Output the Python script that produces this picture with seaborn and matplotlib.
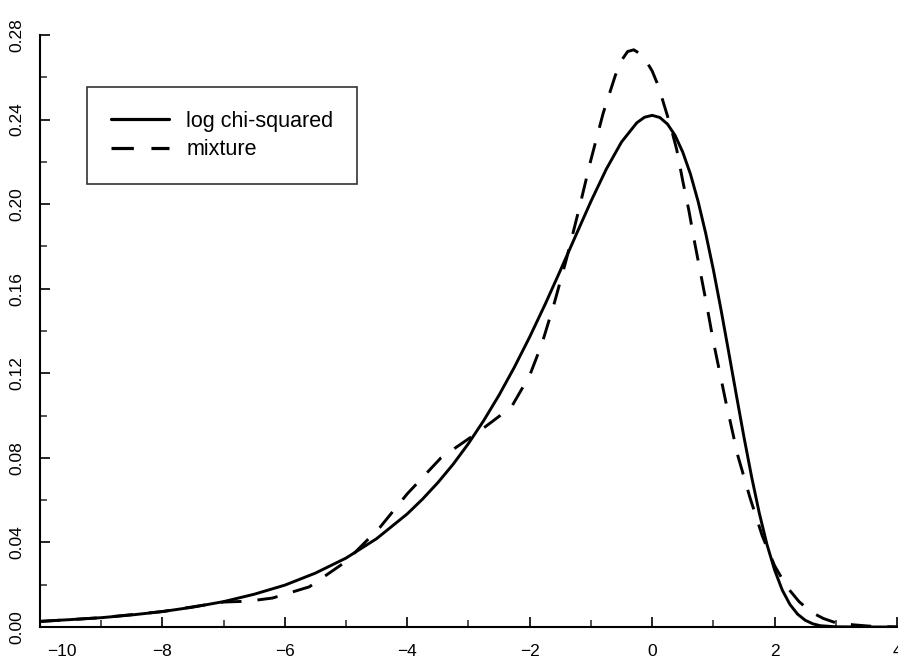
import numpy as np
import pandas as pd
import matplotlib
matplotlib.use("Agg")
import matplotlib.pyplot as plt
import matplotlib.transforms as mtransforms
from matplotlib.ticker import MultipleLocator
import seaborn as sns

# ---- data ----
x_logchi = [-10, -9.5, -9, -8.5, -8, -7.5, -7, -6.5, -6, -5.5, -5, -4.5, -4,
            -3.75, -3.5, -3.25, -3, -2.75, -2.5, -2.25, -2, -1.75, -1.5, -1.25,
            -1, -0.75, -0.5, -0.25, -0.125, 0, 0.125, 0.25, 0.375, 0.5, 0.625,
            0.75, 0.875, 1, 1.125, 1.25, 1.375, 1.5, 1.625, 1.75, 1.875, 2,
            2.125, 2.25, 2.375, 2.5, 2.625, 2.75, 3, 3.5, 4]
y_logchi = [0.0027, 0.0035, 0.0044, 0.0057, 0.0073, 0.0094, 0.0120, 0.0155,
            0.0198, 0.0255, 0.0326, 0.0418, 0.0535, 0.0605, 0.0683, 0.0770,
            0.0868, 0.0977, 0.1097, 0.1229, 0.1372, 0.1525, 0.1686, 0.1850,
            0.2013, 0.2165, 0.2294, 0.2385, 0.2411, 0.2420, 0.2410, 0.2379,
            0.2325, 0.2246, 0.2143, 0.2014, 0.1862, 0.1690, 0.1501, 0.1301,
            0.1098, 0.0898, 0.0710, 0.0539, 0.0391, 0.0270, 0.0175, 0.0107,
            0.0061, 0.0032, 0.0015, 0.0006, 0.0001, 0.0, 0.0]

x_mix = [-10, -9, -8, -7, -6.6, -6.2, -5.6, -5.0, -4.45, -4.0, -3.45, -2.85,
         -2.3, -2.0, -1.8, -1.6, -1.4, -1.2, -1.0, -0.8, -0.6, -0.5, -0.4,
         -0.3, -0.2, -0.1, 0.0, 0.1, 0.2, 0.3, 0.4, 0.5, 0.6, 0.7, 0.8, 0.9,
         1.0, 1.2, 1.4, 1.6, 1.8, 2.0, 2.2, 2.4, 2.6, 2.8, 3.0, 3.3, 3.6, 4.0]
y_mix = [0.0026, 0.0044, 0.0073, 0.0118, 0.0122, 0.0137, 0.0190, 0.0310,
         0.0470, 0.0630, 0.0800, 0.0920, 0.1040, 0.1190, 0.1340, 0.1530,
         0.1740, 0.1970, 0.2210, 0.2430, 0.2610, 0.2680, 0.2722, 0.2730,
         0.2712, 0.2678, 0.2630, 0.2560, 0.2465, 0.2370, 0.2260, 0.2110,
         0.1970, 0.1810, 0.1660, 0.1510, 0.1350, 0.1070, 0.0810, 0.0610,
         0.0430, 0.0290, 0.0190, 0.0120, 0.0070, 0.0040, 0.0020, 0.0010,
         0.0003, 0.0]

series_names = ["log chi-squared", "mixture"]
x_ticks = [-10, -8, -6, -4, -2, 0, 2, 4]
y_ticks = [0.00, 0.04, 0.08, 0.12, 0.16, 0.20, 0.24, 0.28]

df = pd.concat([
    pd.DataFrame({"x": x_logchi, "y": y_logchi, "series": series_names[0]}),
    pd.DataFrame({"x": x_mix, "y": y_mix, "series": series_names[1]}),
], ignore_index=True)

sns.set_theme(style="ticks")
plt.rcParams["font.family"] = ["Liberation Sans", "DejaVu Sans"]
plt.rcParams["text.color"] = "black"

fig = plt.figure(figsize=(8.98, 6.63), dpi=100)
ax = fig.add_axes([0.0445, 0.0543, 0.9544, 0.8929])

sns.lineplot(data=df, x="x", y="y", hue="series", style="series",
             palette=["black", "black"],
             dashes={series_names[0]: "", series_names[1]: (7, 5.5)},
             linewidth=2.1, sort=False, ax=ax, legend=True)

ax.set_xlim(-10, 4)
ax.set_ylim(0, 0.28)
ax.set_xticks(x_ticks)
ax.set_yticks(y_ticks)
ax.xaxis.set_minor_locator(MultipleLocator(1))
ax.yaxis.set_minor_locator(MultipleLocator(0.02))
ax.set_xticklabels([f"{t:d}".replace("-", "\u2212") for t in x_ticks])
ax.set_yticklabels([f"{t:.2f}" for t in y_ticks], rotation=90, va="center")
ax.set_xlabel("")
ax.set_ylabel("")

ax.tick_params(axis="both", which="major", direction="in", length=7, width=1.2,
               labelsize=12.5, colors="black")
ax.tick_params(axis="both", which="minor", direction="in", length=5, width=1.1)
ax.tick_params(axis="x", which="major", pad=12)
ax.tick_params(axis="y", which="major", pad=11)

for s in ["top", "right"]:
    ax.spines[s].set_visible(False)
for s in ["left", "bottom"]:
    ax.spines[s].set_linewidth(1.5)
    ax.spines[s].set_color("black")

# shift the first x label to the right as in the reference
lbl = ax.get_xticklabels()[0]
lbl.set_transform(lbl.get_transform() + mtransforms.ScaledTranslation(0.22, 0, fig.dpi_scale_trans))

leg = ax.legend(loc="upper left", bbox_to_anchor=(0.055, 0.912), frameon=True,
                fancybox=False, edgecolor="black", fontsize=15.5,
                handlelength=2.7, handletextpad=0.8, borderpad=1.1,
                labelspacing=0.35, borderaxespad=0)
leg.get_frame().set_linewidth(1.2)
for line in leg.get_lines():
    line.set_linewidth(2.3)
for t in leg.get_texts():
    t.set_color("black")

fig.savefig("out.png", dpi=100)
